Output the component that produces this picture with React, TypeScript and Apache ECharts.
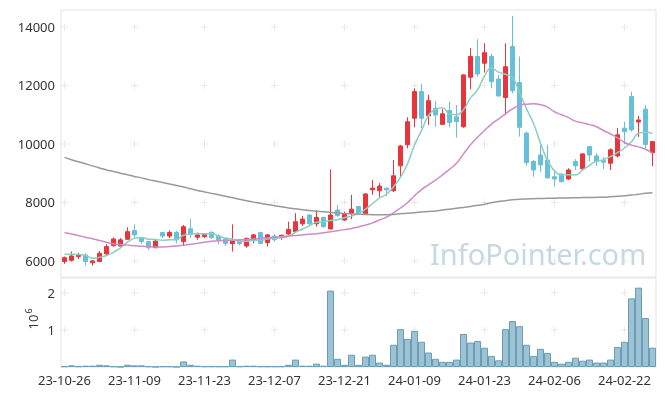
import React, { useEffect, useRef } from "react";
import * as echarts from "echarts";

const dates = [
  "23-10-26", "23-10-27", "23-10-30", "23-10-31", "23-11-01", "23-11-02", "23-11-03", "23-11-06", "23-11-07", "23-11-08",
  "23-11-09", "23-11-10", "23-11-13", "23-11-14", "23-11-15", "23-11-16", "23-11-17", "23-11-20", "23-11-21", "23-11-22",
  "23-11-23", "23-11-24", "23-11-27", "23-11-28", "23-11-29", "23-11-30", "23-12-01", "23-12-04", "23-12-05", "23-12-06",
  "23-12-07", "23-12-08", "23-12-11", "23-12-12", "23-12-13", "23-12-14", "23-12-15", "23-12-18", "23-12-19", "23-12-20",
  "23-12-21", "23-12-22", "23-12-26", "23-12-27", "23-12-28", "24-01-02", "24-01-03", "24-01-04", "24-01-05", "24-01-08",
  "24-01-09", "24-01-10", "24-01-11", "24-01-12", "24-01-15", "24-01-16", "24-01-17", "24-01-18", "24-01-19", "24-01-22",
  "24-01-23", "24-01-24", "24-01-25", "24-01-26", "24-01-29", "24-01-30", "24-01-31", "24-02-01", "24-02-02", "24-02-05",
  "24-02-06", "24-02-07", "24-02-08", "24-02-13", "24-02-14", "24-02-15", "24-02-16", "24-02-19", "24-02-20", "24-02-21",
  "24-02-22", "24-02-23", "24-02-26", "24-02-27", "24-02-28",
];

// [open, close, low, high]
const ohlc = [
  [5980, 6110, 5900, 6150], [6020, 6170, 5980, 6320], [6150, 6200, 6060, 6280], [6200, 5980, 5840, 6260], [5940, 6000, 5840, 6030],
  [5980, 6260, 5960, 6340], [6240, 6490, 6180, 6570], [6520, 6750, 6490, 6800], [6510, 6720, 6500, 6780], [6740, 7000, 6720, 7150],
  [7040, 6890, 6780, 7250], [6770, 6660, 6580, 6810], [6660, 6450, 6380, 6680], [6450, 6680, 6440, 6700], [6970, 6850, 6780, 7000],
  [6850, 6970, 6780, 7040], [6970, 6720, 6600, 7030], [6660, 7170, 6510, 7230], [7100, 6910, 6780, 7430], [6810, 6890, 6720, 6970],
  [6830, 6920, 6780, 6950], [6980, 6800, 6750, 7000], [6860, 6720, 6570, 6910], [6750, 6600, 6510, 6780], [6590, 6680, 6320, 7250],
  [6690, 6590, 6530, 6730], [6510, 6770, 6450, 6800], [6720, 6890, 6600, 6920], [6970, 6600, 6580, 7000], [6630, 6890, 6490, 6920],
  [6850, 6720, 6660, 6920], [6830, 6880, 6720, 6890], [6920, 7080, 6890, 7340], [7000, 7340, 6970, 7630], [7270, 7430, 7200, 7540],
  [7570, 7270, 7200, 7600], [7270, 7490, 7170, 7740], [7490, 7170, 7140, 7510], [7090, 7570, 7080, 9130], [7740, 7550, 7510, 7910],
  [7400, 7600, 7370, 7690], [7630, 7770, 7430, 8260], [7860, 7630, 7570, 7880], [7610, 8290, 7570, 8310], [8430, 8490, 8260, 8770],
  [8400, 8560, 8190, 8660], [8490, 8430, 8220, 8500], [8400, 8910, 8360, 9450], [9250, 9930, 8880, 9970], [9970, 10760, 9850, 10910],
  [10880, 11790, 10570, 11900], [11790, 10880, 10540, 12050], [10960, 11480, 10650, 11680], [11220, 10990, 10590, 11480], [10670, 11030, 10650, 11190],
  [11140, 10730, 10570, 11450], [10930, 10760, 10220, 11330], [10590, 12360, 10550, 12380], [12280, 12990, 11870, 13270], [12990, 12390, 12300, 13580],
  [12760, 13120, 12440, 13440], [12990, 12130, 11900, 13080], [12220, 11640, 11620, 12360], [11590, 12640, 10990, 13440], [13330, 11820, 11730, 14380],
  [12100, 10570, 10250, 12990], [10370, 9360, 9250, 10420], [9400, 9110, 8880, 9450], [9620, 9280, 9040, 10000], [9450, 8840, 8820, 9970],
  [8880, 8800, 8540, 9110], [8970, 8710, 8680, 9000], [8800, 9110, 8770, 9170], [9400, 9250, 9110, 9480], [9150, 9660, 9110, 9680],
  [9910, 9620, 9400, 9930], [9590, 9400, 9250, 9680], [9430, 9375, 9135, 9545], [9340, 9800, 9110, 9850], [9590, 10310, 9545, 10540],
  [10540, 10420, 10000, 10760], [11620, 10480, 10420, 11790], [10750, 10820, 10240, 10960], [11190, 9980, 9850, 11330], [9700, 10080, 9240, 10080],
];

const volumes = [
  20000, 45000, 20000, 35000, 35000, 60000, 45000, 20000, 5000, 60000,
  45000, 45000, 20000, 5000, 20000, 20000, 5000, 150000, 60000, 35000,
  20000, 20000, 20000, 20000, 200000, 20000, 35000, 35000, 20000, 20000,
  20000, 20000, 60000, 200000, 35000, 35000, 90000, 35000, 2060000, 220000,
  60000, 330000, 60000, 280000, 330000, 120000, 60000, 600000, 1020000, 760000,
  970000, 680000, 390000, 220000, 140000, 140000, 200000, 890000, 660000, 700000,
  520000, 300000, 180000, 1020000, 1240000, 1100000, 600000, 300000, 490000, 380000,
  140000, 90000, 140000, 250000, 170000, 200000, 120000, 120000, 200000, 540000,
  680000, 1850000, 2140000, 1320000, 520000,
];

const ma5 = [
  6230, 6230, 6220, 6190, 6092, 6122, 6186, 6296, 6444, 6644,
  6770, 6804, 6744, 6736, 6706, 6722, 6734, 6878, 6924, 6932,
  6922, 6938, 6848, 6786, 6744, 6678, 6672, 6706, 6706, 6748,
  6774, 6796, 6834, 6982, 7090, 7200, 7322, 7340, 7386, 7410,
  7476, 7532, 7624, 7768, 7956, 8148, 8280, 8536, 8864, 9318,
  9964, 10454, 10968, 11180, 11234, 11022, 10998, 11174, 11574, 11846,
  12324, 12598, 12454, 12384, 12270, 11760, 11206, 10700, 10028, 9432,
  9078, 8948, 8948, 8942, 9106, 9270, 9408, 9461, 9571, 9701,
  9861, 10077, 10366, 10402, 10356,
];

const ma20 = [
  6960, 6920, 6870, 6810, 6760, 6700, 6640, 6590, 6560, 6540,
  6520, 6500, 6490, 6480, 6480, 6490, 6510, 6540, 6570, 6600,
  6640, 6670, 6690, 6700, 6710, 6720, 6730, 6750, 6770, 6790,
  6810, 6830, 6850, 6870, 6890, 6910, 6930, 6960, 7000, 7030,
  7070, 7110, 7160, 7230, 7300, 7400, 7500, 7640, 7810, 7990,
  8230, 8440, 8600, 8760, 8940, 9130, 9340, 9660, 9970, 10230,
  10460, 10680, 10850, 11030, 11200, 11320, 11360, 11370, 11340, 11260,
  11100, 11000, 10900, 10780, 10720, 10660, 10590, 10460, 10340, 10210,
  10050, 9960, 9900, 9820, 9690,
];

const ma120 = [
  9540, 9460, 9390, 9320, 9250, 9180, 9110, 9060, 9000, 8950,
  8890, 8840, 8780, 8730, 8680, 8630, 8580, 8530, 8470, 8410,
  8360, 8310, 8260, 8210, 8160, 8110, 8060, 8010, 7970, 7930,
  7890, 7850, 7810, 7780, 7750, 7720, 7700, 7680, 7660, 7640,
  7620, 7610, 7600, 7590, 7580, 7580, 7580, 7590, 7610, 7630,
  7650, 7670, 7690, 7710, 7740, 7770, 7800, 7830, 7860, 7900,
  7940, 7990, 8030, 8060, 8090, 8110, 8120, 8130, 8135, 8140,
  8145, 8150, 8155, 8160, 8165, 8170, 8175, 8180, 8195, 8210,
  8230, 8250, 8280, 8310, 8335,
];

const priceTicks = [6000, 8000, 10000, 12000, 14000];
const volumeTicks = [1000000, 2000000];
const labelStep = 10;

const FONT = "'Noto Sans', 'Open Sans', sans-serif";
const UP = "#e8353b";
const DOWN = "#68bfd8";

export default function App() {
  const ref = useRef<HTMLDivElement>(null);

  useEffect(() => {
    if (!ref.current) return;
    const chart = echarts.init(ref.current, null, { renderer: "svg" });
    const labelIdx = dates.map((_, i) => i).filter((i) => i % labelStep === 0);
    const priceCross = labelIdx.flatMap((i) => priceTicks.map((v) => [i, v]));
    const volCross = labelIdx.flatMap((i) => volumeTicks.map((v) => [i, v]));
    const crossSymbol = "path://M3,0h1v3h3v1h-3v3h-1v-3h-3v-1h3z";

    chart.setOption({
      animation: false,
      textStyle: { fontFamily: FONT },
      grid: [
        { left: 61, top: 10, width: 595, height: 267, show: true, borderColor: "#e3e3e3", borderWidth: 1, backgroundColor: "transparent" },
        { left: 61, top: 278, width: 595, height: 89, show: true, borderColor: "#e3e3e3", borderWidth: 1, backgroundColor: "transparent" },
      ],
      xAxis: [
        {
          type: "category", gridIndex: 0, data: dates, boundaryGap: true,
          axisLine: { show: false }, axisTick: { show: false }, axisLabel: { show: false }, splitLine: { show: false },
        },
        {
          type: "category", gridIndex: 1, data: dates, boundaryGap: true,
          axisLine: { show: false }, axisTick: { show: false }, splitLine: { show: false },
          axisLabel: { interval: labelStep - 1, color: "#333", fontSize: 13, fontFamily: FONT, margin: 6 },
        },
      ],
      yAxis: [
        {
          type: "value", gridIndex: 0, min: 5450, max: 14580, splitNumber: 5,
          axisLine: { show: false }, axisTick: { show: false }, splitLine: { show: false },
          axisLabel: {
            color: "#333", fontSize: 13, fontFamily: FONT, margin: 6,
            formatter: (v: number) => (v % 2000 === 0 ? String(v) : ""),
          },
        },
        {
          type: "value", gridIndex: 1, min: 0, max: 2400000, interval: 1000000,
          axisLine: { show: false }, axisTick: { show: false }, splitLine: { show: false },
          axisLabel: {
            color: "#333", fontSize: 13, fontFamily: FONT, margin: 6,
            formatter: (v: number) => (v === 0 || v % 1000000 !== 0 ? "" : String(v / 1000000)),
          },
        },
      ],
      graphic: [
        {
          type: "text", left: 430, top: 239, z: 0, silent: true,
          style: { text: "InfoPointer.com", fontSize: 29, fontFamily: FONT, fill: "#c6d8e2" },
        },
        {
          type: "group", x: 33, y: 322, rotation: Math.PI / 2, silent: true,
          children: [
            { type: "text", x: 0, y: 0, style: { text: "10", fontSize: 13, fontFamily: FONT, fill: "#333", align: "center", verticalAlign: "middle", textAlign: "center", textVerticalAlign: "middle" } },
            { type: "text", x: 11, y: -5, style: { text: "6", fontSize: 9, fontFamily: FONT, fill: "#333", align: "center", verticalAlign: "middle", textAlign: "center", textVerticalAlign: "middle" } },
          ],
        },
      ],
      series: [
        {
          type: "scatter", xAxisIndex: 0, yAxisIndex: 0, data: priceCross, symbol: crossSymbol, symbolSize: 7,
          itemStyle: { color: "#e2e2e2" }, silent: true, z: 1,
        },
        {
          type: "scatter", xAxisIndex: 1, yAxisIndex: 1, data: volCross, symbol: crossSymbol, symbolSize: 7,
          itemStyle: { color: "#e2e2e2" }, silent: true, z: 1,
        },
        {
          type: "candlestick", xAxisIndex: 0, yAxisIndex: 0, data: ohlc, barWidth: 5, z: 3,
          itemStyle: { color: UP, color0: DOWN, borderColor: UP, borderColor0: DOWN, borderWidth: 1 },
        },
        {
          type: "line", xAxisIndex: 0, yAxisIndex: 0, data: ma5, smooth: true, showSymbol: false, z: 4,
          lineStyle: { color: "#8dcdc3", width: 1.5 },
        },
        {
          type: "line", xAxisIndex: 0, yAxisIndex: 0, data: ma20, smooth: true, showSymbol: false, z: 4,
          lineStyle: { color: "#cc8dc6", width: 1.5 },
        },
        {
          type: "line", xAxisIndex: 0, yAxisIndex: 0, data: ma120, smooth: true, showSymbol: false, z: 4,
          lineStyle: { color: "#999999", width: 1.5 },
        },
        {
          type: "bar", xAxisIndex: 1, yAxisIndex: 1, data: volumes, barCategoryGap: "0%", z: 3,
          itemStyle: { color: "#9dc2d3", borderColor: "#6a9db6", borderWidth: 1 },
        },
      ],
    });

    return () => chart.dispose();
  }, []);

  return <div ref={ref} style={{ position: "fixed", left: 0, top: 0, width: 665, height: 396 }} />;
}
